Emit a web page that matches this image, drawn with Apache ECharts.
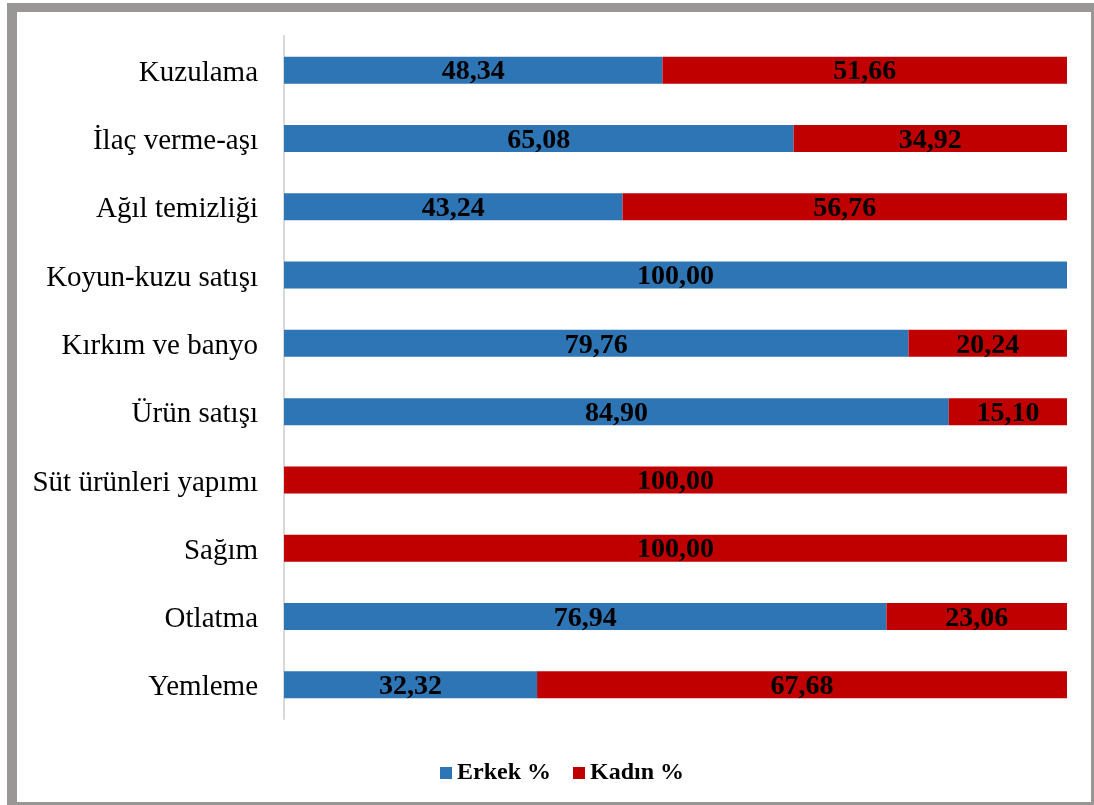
<!DOCTYPE html>
<html><head><meta charset="utf-8">
<script src="https://cdn.jsdelivr.net/npm/echarts@6/dist/echarts.min.js"></script>
<style>html,body{margin:0;padding:0;background:#fff}#c{width:1094px;height:805px}</style>
</head><body><div id="c"></div>
<script>
const categories = ['Yemleme','Otlatma','Sağım','Süt ürünleri yapımı','Ürün satışı','Kırkım ve banyo','Koyun-kuzu satışı','Ağıl temizliği','İlaç verme-aşı','Kuzulama'];
const erkek = [32.32,76.94,0,0,84.90,79.76,100,43.24,65.08,48.34];
const kadin = [67.68,23.06,100,100,15.10,20.24,0,56.76,34.92,51.66];
const seriesNames = ['Erkek %','Kadın %'];
const FONT = '"Liberation Serif","Times New Roman",serif';
const chart = echarts.init(document.getElementById('c'));
const lbl = {
  show: true, position: 'inside', color: '#000', fontFamily: FONT, fontWeight: 'bold', fontSize: 28,
  offset: [0, 2],
  formatter: p => p.value > 0 ? p.value.toFixed(2).replace('.', ',') : ''
};
chart.setOption({
  animation: false,
  graphic: [
    {type:'rect', shape:{x:7,y:3,width:10,height:802}, style:{fill:'#9a9696'}},
    {type:'rect', shape:{x:7,y:3,width:1087,height:9}, style:{fill:'#9a9696'}},
    {type:'rect', shape:{x:1091,y:3,width:3,height:802}, style:{fill:'#9a9696'}},
    {type:'rect', shape:{x:7,y:802,width:1087,height:3}, style:{fill:'#9a9696'}}
  ],
  grid: {left: 284, right: 27, top: 36, bottom: 86, containLabel: false},
  legend: {
    bottom: 15, left: 435, itemWidth: 12, itemHeight: 12, itemGap: 22,
    icon: 'rect',
    textStyle: {fontFamily: FONT, fontWeight: 'bold', fontSize: 24, color: '#000'},
    data: seriesNames
  },
  xAxis: {type: 'value', min: 0, max: 100, show: false},
  yAxis: {
    type: 'category', data: categories,
    axisLine: {show: true, lineStyle: {color: '#d9d9d9', width: 2}},
    axisTick: {show: false},
    axisLabel: {
      margin: 26,
      formatter: v => '{a|' + v + '}',
      rich: {a: {fontFamily: FONT, fontSize: 29, color: '#000', padding: [6, 0, 0, 0]}}
    }
  },
  series: [
    {name: seriesNames[0], type: 'bar', stack: 't', data: erkek, barWidth: 27,
     itemStyle: {color: '#2E75B6'}, label: lbl},
    {name: seriesNames[1], type: 'bar', stack: 't', data: kadin, barWidth: 27,
     itemStyle: {color: '#C00000'}, label: lbl}
  ]
});
</script></body></html>
